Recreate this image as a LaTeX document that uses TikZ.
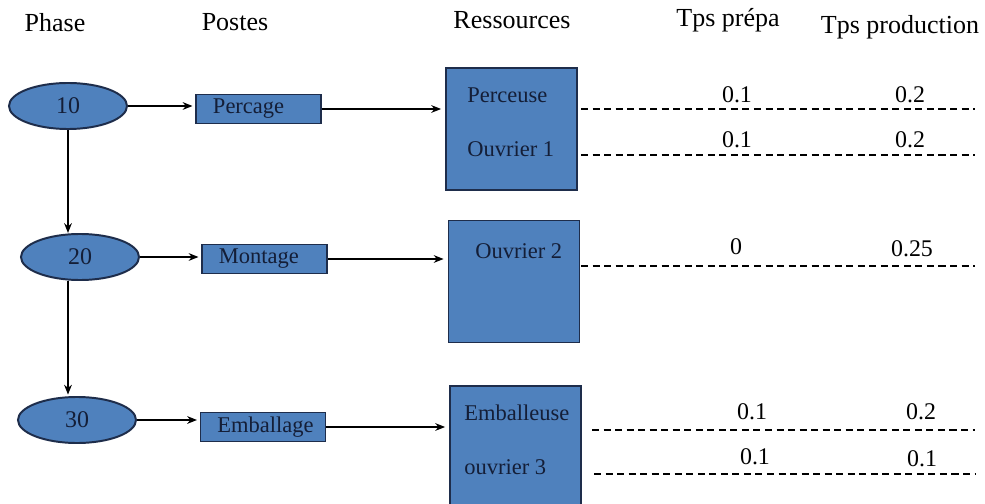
\documentclass[tikz,border=0pt]{standalone}
\usepackage{fontspec}
\setmainfont{Liberation Serif}
\usetikzlibrary{shapes.geometric,arrows.meta}
\definecolor{boxblue}{RGB}{79,129,189}
\definecolor{edgeblue}{RGB}{30,45,75}
\definecolor{textnavy}{RGB}{20,30,55}

\begin{document}
\begin{tikzpicture}[x=0.025cm,y=-0.025cm,
    phase/.style={ellipse,draw=edgeblue,line width=1.4pt,fill=boxblue,text=textnavy,
        minimum width=2.95cm,minimum height=1.15cm,inner sep=0pt,font=\fontsize{17}{20}\selectfont},
    poste/.style={rectangle,draw=edgeblue,line width=1pt,fill=boxblue,text=textnavy,
        minimum height=0.725cm,text width=2.275cm,inner xsep=0.425cm,inner ysep=0pt,
        align=left,font=\fontsize{16}{19}\selectfont},
    ressource/.style={rectangle,draw=edgeblue,line width=1pt,fill=boxblue,
        minimum width=3.275cm,minimum height=3.05cm},
    restext/.style={anchor=base west,inner sep=0pt,text=textnavy,font=\fontsize{16}{19}\selectfont},
    entete/.style={anchor=base,inner sep=0pt,font=\fontsize{18.5}{22}\selectfont},
    valeur/.style={anchor=base,inner sep=0pt,font=\fontsize{17}{20}\selectfont},
    fleche/.style={-{Stealth[length=7pt,width=5.5pt]},line width=0.9pt},
    tirets/.style={dash pattern=on 5pt off 3.2pt,line width=0.9pt}
]
    \useasboundingbox (0,0) rectangle (985,504);

    % Column headers
    \node[entete] (hphase) at (55,32) {Phase};
    \node[entete] (hpostes) at (235,31) {Postes};
    \node[entete] (hres) at (512,29) {Ressources};
    \node[entete] (hprepa) at (728,27) {Tps prépa};
    \node[entete] (hprod) at (900,34) {Tps production};

    % Phases
    \node[phase] (e10) at (68,106) {10};
    \node[phase] (e20) at (80,257) {20};
    \node[phase] (e30) at (77,420) {30};

    % Postes
    \node[poste] (p1) at (258.5,109) {Percage};
    \node[poste] (p2) at (264.5,259) {Montage};
    \node[poste] (p3) at (263,427) {Emballage};

    % Ressources
    \node[ressource] (r1) at (511.5,129) {};
    \node[ressource] (r2) at (514,281.5) {};
    \node[ressource] (r3) at (515.5,447) {};
    \node[restext] (t1) at (467,103) {Perceuse};
    \node[restext] (t2) at (467,157) {Ouvrier 1};
    \node[restext] (t3) at (475,259) {Ouvrier 2};
    \node[restext] (t4) at (464,420) {Emballeuse};
    \node[restext] (t5) at (464,474) {ouvrier 3};

    % Arrows
    \draw[fleche] (e10.south) -- (e10.south |- e20.north);
    \draw[fleche] (e20.south -| e10.south) -- ([yshift=1pt]e30.north -| e10.south);
    \draw[fleche, shorten >=2pt] (e10.east) -- (e10.east -| p1.west);
    \draw[fleche, shorten >=2pt] (e20.east) -- (e20.east -| p2.west);
    \draw[fleche, shorten >=2pt] (e30.east) -- (e30.east -| p3.west);
    \draw[fleche, shorten >=3pt] (p1.east) -- (p1.east -| r1.west);
    \draw[fleche, shorten >=3pt] (p2.east) -- (p2.east -| r2.west);
    \draw[fleche, shorten >=3pt] (p3.east) -- (p3.east -| r3.west);

    % Times
    \coordinate (d1a) at (581,109); \coordinate (d1b) at (975,109);
    \coordinate (d2a) at (581,155); \coordinate (d2b) at (975,155);
    \coordinate (d3a) at (581,266); \coordinate (d3b) at (975,266);
    \coordinate (d4a) at (592,430); \coordinate (d4b) at (975,430);
    \coordinate (d5a) at (594,474); \coordinate (d5b) at (975,474);
    \draw[tirets] (d1a) -- (d1b);
    \draw[tirets] (d2a) -- (d2b);
    \draw[tirets] (d3a) -- (d3b);
    \draw[tirets] (d4a) -- (d4b);
    \draw[tirets] (d5a) -- (d5b);

    \node[valeur] (v1a) at (737,103) {0.1};
    \node[valeur] (v1b) at (910,103) {0.2};
    \node[valeur] (v2a) at (737,148) {0.1};
    \node[valeur] (v2b) at (910,148) {0.2};
    \node[valeur] (v3a) at (736,255) {0};
    \node[valeur] (v3b) at (912,257) {0.25};
    \node[valeur] (v4a) at (752,419) {0.1};
    \node[valeur] (v4b) at (921,419) {0.2};
    \node[valeur] (v5a) at (755,464) {0.1};
    \node[valeur] (v5b) at (922,466) {0.1};
\end{tikzpicture}
\end{document}
